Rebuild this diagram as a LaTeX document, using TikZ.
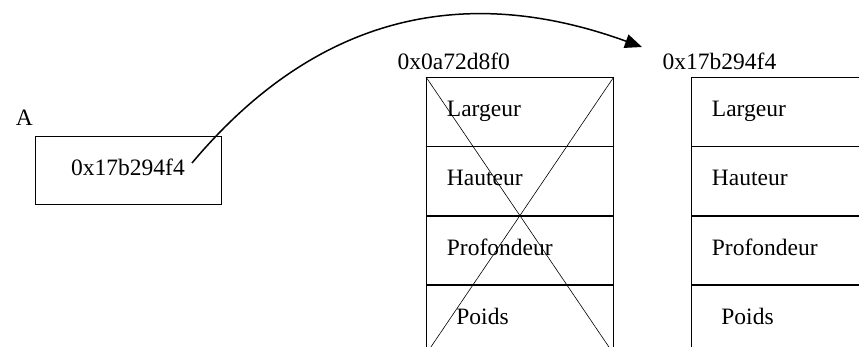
\documentclass[tikz,border=0pt]{standalone}
\usepackage{fontspec}
\setmainfont{Liberation Serif}
\usetikzlibrary{positioning,arrows.meta}

\tikzset{
  txt/.style={font=\fontsize{23.5}{28}\selectfont, inner sep=0pt},
  box/.style={draw, line width=0.8pt, txt, minimum width=186pt, minimum height=68pt,
    text height=16pt, text depth=6pt},
  cell/.style={draw, line width=0.8pt, txt, minimum height=68.5pt, text width=146pt,
    text height=16pt, text depth=6pt, inner xsep=20.5pt, inner ysep=0pt, align=left},
  ptr/.style={line width=1.5pt, -{Triangle[length=17pt,width=14pt]}},
}

\begin{document}
\begin{tikzpicture}[x=1pt,y=1pt]
\clip (0,0) rectangle (859,346);
% variable A
\node[box] (ptrA) at (128,176) {0x17b294f4};
\node[txt, above right=10pt and -19pt of ptrA.north west] (nameA) {A};
% old object (freed)
\node[cell, anchor=north west] (l1) at (426,269) {Largeur};
\node[cell, below=0pt of l1] (l2) {Hauteur};
\node[cell, below=0pt of l2] (l3) {Profondeur};
\node[cell, below=0pt of l3] (l4) {\hspace*{9.5pt}Poids};
\draw[line width=0.6pt] (l1.north west) -- (l4.south east);
\draw[line width=0.6pt] (l1.north east) -- (l4.south west);
\node[txt, above right=7.5pt and -28.5pt of l1.north west] (addrL) {0x0a72d8f0};
% new object
\node[cell, anchor=north west] (r1) at (691,269) {Largeur};
\node[cell, below=0pt of r1] (r2) {Hauteur};
\node[cell, below=0pt of r2] (r3) {Profondeur};
\node[cell, below=0pt of r3] (r4) {\hspace*{9.5pt}Poids};
\node[txt, above right=7.5pt and -28.5pt of r1.north west] (addrR) {0x17b294f4};
% pointer
\coordinate (src) at (192,183);
\coordinate (dst) at (642,299);
\draw[ptr] (src) .. controls (333.4,351.5) and (491.6,353.7) .. (dst);
\end{tikzpicture}
\end{document}
